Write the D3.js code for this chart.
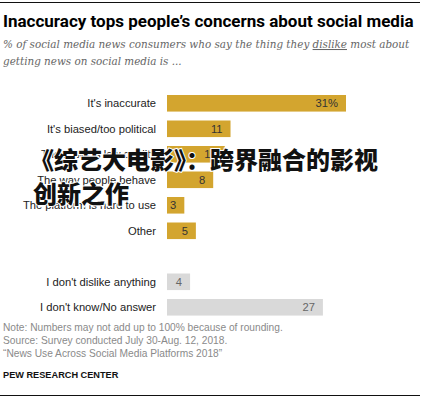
<!DOCTYPE html>
<html>
<head>
<meta charset="utf-8">
<script src="https://cdn.jsdelivr.net/npm/d3@7"></script>
<style>
  body { margin: 0; background: #fff; }
  svg { display: block; }
</style>
</head>
<body>
<svg id="chart" width="422" height="397"></svg>
<script>
const categories = [
  "It's inaccurate",
  "It's biased/too political",
  "The news is low quality",
  "The way people behave",
  "The platform is hard to use",
  "Other",
  "",
  "I don't dislike anything",
  "I don't know/No answer"
];
const values = [31, 11, 10, 8, 3, 5, null, 4, 27];
const valueLabels = ["31%", "11", "10", "8", "3", "5", "", "4", "27"];
const barGroup = ["main", "main", "main", "main", "main", "main", "gap", "other", "other"];

const noteLines = [
  "Note: Numbers may not add up to 100% because of rounding.",
  "Source: Survey conducted July 30-Aug. 12, 2018.",
  "\u201cNews Use Across Social Media Platforms 2018\u201d"
];

const svg = d3.select("#chart");

// top and bottom rules
svg.append("line").attr("x1", 0).attr("x2", 420).attr("y1", 2.5).attr("y2", 2.5)
  .attr("stroke", "#111").attr("stroke-width", 1.2);
svg.append("line").attr("x1", 0).attr("x2", 420).attr("y1", 395.5).attr("y2", 395.5)
  .attr("stroke", "#111").attr("stroke-width", 1.2);

svg.append("text")
  .attr("x", 3).attr("y", 27)
  .attr("font-family", "Roboto, 'Liberation Sans', sans-serif")
  .attr("font-weight", "bold")
  .attr("font-size", "17px")
  .attr("fill", "#000")
  .text("Inaccuracy tops people\u2019s concerns about social media");

const sub = svg.append("text")
  .attr("x", 3).attr("y", 48)
  .attr("font-family", "'DejaVu Serif', serif")
  .attr("font-style", "italic")
  .attr("font-size", "10.4px")
  .attr("fill", "#666");
sub.append("tspan").text("% of social media news consumers who say the thing they ");
sub.append("tspan").attr("text-decoration", "underline").text("dislike");
sub.append("tspan").text(" most about");
svg.append("text")
  .attr("x", 3).attr("y", 65)
  .attr("font-family", "'DejaVu Serif', serif")
  .attr("font-style", "italic")
  .attr("font-size", "10.4px")
  .attr("fill", "#666")
  .text("getting news on social media is ...");

const x = d3.scaleLinear().domain([0, 31]).range([167, 346]);
const step = 25.5;
const y = d3.scaleBand()
  .domain(d3.range(categories.length))
  .range([95, 95 + step * (categories.length - 0.35)])
  .paddingInner(0.35)
  .paddingOuter(0);

const rows = categories.map((c, i) => ({
  cat: c, value: values[i], label: valueLabels[i], group: barGroup[i], i
})).filter(d => d.value !== null);

svg.selectAll(".bar")
  .data(rows)
  .enter()
  .append("rect")
  .attr("class", "bar")
  .attr("x", x(0))
  .attr("y", d => y(d.i))
  .attr("width", d => x(d.value) - x(0))
  .attr("height", y.bandwidth())
  .attr("fill", d => d.group === "main" ? "#d3a52f" : "#d9d9d9");

svg.selectAll(".cat")
  .data(rows)
  .enter()
  .append("text")
  .attr("class", "cat")
  .attr("x", 156)
  .attr("y", d => y(d.i) + y.bandwidth() / 2)
  .attr("dy", "0.35em")
  .attr("text-anchor", "end")
  .attr("font-family", "'Liberation Sans', Arial, sans-serif")
  .attr("font-size", "11.2px")
  .attr("fill", "#222")
  .text(d => d.cat);

svg.selectAll(".val")
  .data(rows)
  .enter()
  .append("text")
  .attr("class", "val")
  .attr("x", d => x(d.value) - 8)
  .attr("y", d => y(d.i) + y.bandwidth() / 2)
  .attr("dy", "0.35em")
  .attr("text-anchor", "end")
  .attr("font-family", "'Liberation Sans', Arial, sans-serif")
  .attr("font-size", "11.2px")
  .attr("fill", d => d.group === "main" ? "#333" : "#666")
  .text(d => d.label);

svg.selectAll(".note")
  .data(noteLines)
  .enter()
  .append("text")
  .attr("class", "note")
  .attr("x", 3)
  .attr("y", (d, i) => 331 + i * 13)
  .attr("font-family", "'Liberation Sans', Arial, sans-serif")
  .attr("font-size", "10.2px")
  .attr("fill", "#8a8a8a")
  .text(d => d);

svg.append("text")
  .attr("x", 3).attr("y", 378)
  .attr("font-family", "'Liberation Sans', Arial, sans-serif")
  .attr("font-weight", "bold")
  .attr("font-size", "9.2px")
  .attr("fill", "#111")
  .text("PEW RESEARCH CENTER");

// overlay caption in the picture
const overlay = ["\u300a综艺大电影\u300b\uff1a跨界融合的影视", "创新之作"];
svg.selectAll(".overlay")
  .data(overlay)
  .enter()
  .append("text")
  .attr("class", "overlay")
  .attr("x", (d, i) => i === 0 ? 30 : 33)
  .attr("y", (d, i) => i === 0 ? 169 : 203)
  .attr("font-family", "'Noto Sans CJK SC', sans-serif")
  .attr("font-weight", "900")
  .attr("font-size", "24px")
  .attr("fill", "#111")
  .attr("stroke", "#fff")
  .attr("stroke-width", 2)
  .attr("paint-order", "stroke")
  .text(d => d);
</script>
</body>
</html>
